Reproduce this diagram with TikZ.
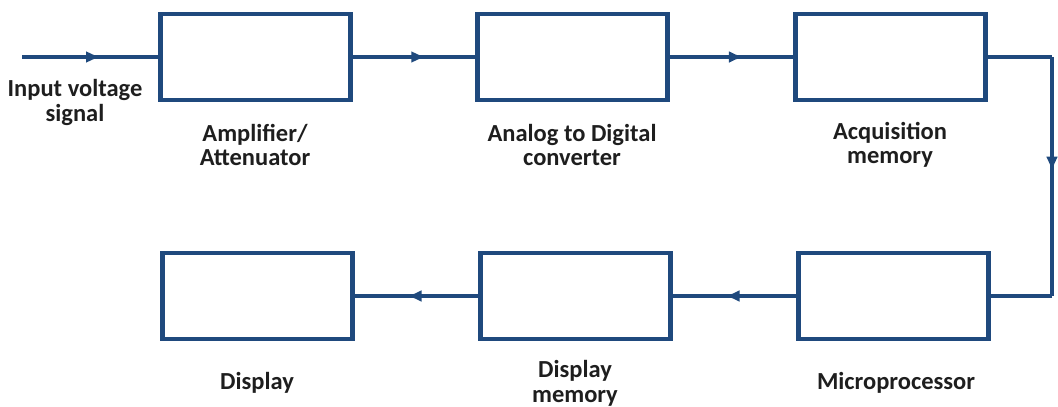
\documentclass[tikz,border=0pt]{standalone}
\usepackage{fontspec}
\setmainfont{Carlito}
\usetikzlibrary{arrows.meta,decorations.markings}
\definecolor{lineblue}{RGB}{31,73,125}
\definecolor{textgrey}{RGB}{30,30,30}
\tikzset{
  blockbox/.style={draw=lineblue, line width=4.5pt, minimum width=190pt, minimum height=86pt, inner sep=0pt},
  wire/.style={draw=lineblue, line width=3.5pt},
  midarrow/.style={wire, postaction={decorate}, decoration={markings,
      mark=at position #1 with {\arrow{Latex[length=15pt,width=12pt]}}}},
  caption/.style={font=\fontsize{24.5}{24.5}\selectfont\bfseries, text=textgrey, align=center, inner sep=0pt}
}
\begin{document}
\begin{tikzpicture}[x=1pt,y=-1pt]
  \useasboundingbox (0,0) rectangle (1058,407);
  % upper row
  \node[blockbox] (amp) at (255.5,57) {};
  \node[blockbox] (adc) at (572.5,57) {};
  \node[blockbox] (acq) at (890.5,57) {};
  % lower row
  \node[blockbox] (disp) at (257.5,296) {};
  \node[blockbox] (dmem) at (575.5,296) {};
  \node[blockbox] (mpu)  at (893.5,296) {};
  % signal path
  \coordinate (src) at (22,57);
  \coordinate (rtop) at (1052,57);
  \coordinate (rbot) at (1052,296);
  \path[midarrow=0.58] (src) -- (amp.west);
  \path[midarrow=0.6] (amp.east) -- (adc.west);
  \path[midarrow=0.6] (adc.east) -- (acq.west);
  \path[wire] (acq.east) -- (rtop);
  \path[midarrow=0.48] (rtop) -- (rbot);
  \path[wire] (rbot) -- (mpu.east);
  \path[midarrow=0.58] (mpu.west) -- (dmem.east);
  \path[midarrow=0.58] (dmem.west) -- (disp.east);
  % captions
  \node[caption] (lin) at (75,102.5) {Input voltage\\signal};
  \node[caption] (lamp) at (255,145) {Amplifier/\\Attenuator};
  \node[caption] (ladc) at (572,145) {Analog to Digital\\converter};
  \node[caption] (lacq) at (890,145) {Acquisition\\memory};
  \node[caption] (ldisp) at (257,383) {Display};
  \node[caption] (ldmem) at (575,383.5) {Display\\memory};
  \node[caption] (lmpu) at (896,383) {Microprocessor};
\end{tikzpicture}
\end{document}
